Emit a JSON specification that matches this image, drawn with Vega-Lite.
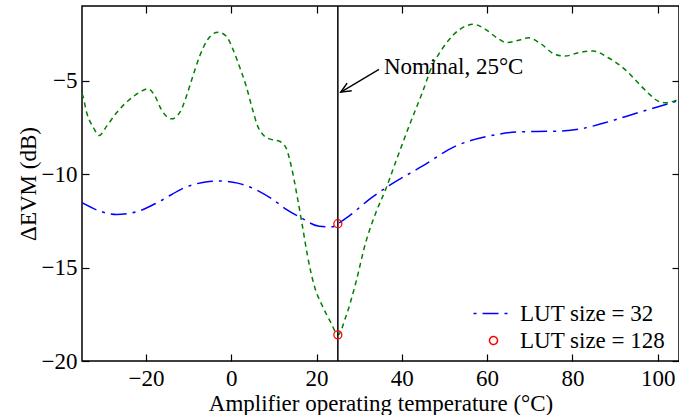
{
  "$schema": "https://vega.github.io/schema/vega-lite/v6.json",
  "width": 597,
  "height": 355,
  "autosize": {"type": "none"},
  "padding": {"left": 82, "top": 6, "right": 0, "bottom": 54},
  "background": "white",
  "config": {
    "view": {"stroke": "black", "strokeWidth": 1.5},
    "font": "Liberation Serif",
    "axis": {
      "grid": false,
      "domain": false,
      "labelFont": "Liberation Serif",
      "labelFontSize": 23,
      "labelColor": "black",
      "titleFont": "Liberation Serif",
      "titleFontSize": 23,
      "titleFontWeight": "normal",
      "titleColor": "black",
      "tickColor": "black",
      "tickWidth": 1.2,
      "tickSize": -7,
      "labelFlush": false
    }
  },
  "resolve": {"axis": {"x": "independent", "y": "independent"}},
  "layer": [
    {
      "data": {"values": [
        {"temp": -35, "evm": -11.53, "series": "LUT size = 32"},
        {"temp": -30.8, "evm": -11.98, "series": "LUT size = 32"},
        {"temp": -26.9, "evm": -12.16, "series": "LUT size = 32"},
        {"temp": -21.4, "evm": -11.95, "series": "LUT size = 32"},
        {"temp": -16.75, "evm": -11.45, "series": "LUT size = 32"},
        {"temp": -10.5, "evm": -10.68, "series": "LUT size = 32"},
        {"temp": -6, "evm": -10.42, "series": "LUT size = 32"},
        {"temp": -2.7, "evm": -10.37, "series": "LUT size = 32"},
        {"temp": 1.5, "evm": -10.48, "series": "LUT size = 32"},
        {"temp": 5.05, "evm": -10.75, "series": "LUT size = 32"},
        {"temp": 9.7, "evm": -11.35, "series": "LUT size = 32"},
        {"temp": 13, "evm": -11.9, "series": "LUT size = 32"},
        {"temp": 16.4, "evm": -12.34, "series": "LUT size = 32"},
        {"temp": 20.6, "evm": -12.79, "series": "LUT size = 32"},
        {"temp": 23.7, "evm": -12.82, "series": "LUT size = 32"},
        {"temp": 25, "evm": -12.65, "series": "LUT size = 32"},
        {"temp": 27.6, "evm": -12.25, "series": "LUT size = 32"},
        {"temp": 32.3, "evm": -11.36, "series": "LUT size = 32"},
        {"temp": 37, "evm": -10.62, "series": "LUT size = 32"},
        {"temp": 44.8, "evm": -9.57, "series": "LUT size = 32"},
        {"temp": 52.6, "evm": -8.5, "series": "LUT size = 32"},
        {"temp": 60.3, "evm": -7.97, "series": "LUT size = 32"},
        {"temp": 68.1, "evm": -7.73, "series": "LUT size = 32"},
        {"temp": 75.9, "evm": -7.7, "series": "LUT size = 32"},
        {"temp": 81.4, "evm": -7.6, "series": "LUT size = 32"},
        {"temp": 87.6, "evm": -7.25, "series": "LUT size = 32"},
        {"temp": 95.4, "evm": -6.71, "series": "LUT size = 32"},
        {"temp": 105, "evm": -6.06, "series": "LUT size = 32"}
      ]},
      "mark": {"type": "line", "interpolate": "monotone", "strokeWidth": 1.5, "strokeDash": [16, 6, 3, 6], "clip": true},
      "encoding": {
        "x": {"field": "temp", "type": "quantitative", "scale": {"domain": [-35, 105], "nice": false, "zero": false},
          "axis": {"orient": "bottom", "title": "Amplifier operating temperature (°C)", "values": [-20, 0, 20, 40, 60, 80, 100], "labelPadding": 13, "titlePadding": 2}},
        "y": {"field": "evm", "type": "quantitative", "scale": {"domain": [-20, -1], "nice": false, "zero": false},
          "axis": {"orient": "left", "title": "ΔEVM (dB)", "values": [-20, -15, -10, -5], "labelPadding": 12, "titlePadding": 1}},
        "color": {"field": "series", "type": "nominal",
          "scale": {"domain": ["LUT size = 32", "LUT size = 128"], "range": ["#0000ff", "#ff0000"]},
          "legend": {
            "orient": "none", "legendX": 400, "legendY": 296, "title": null,
            "labelFont": "Liberation Serif", "labelFontSize": 23, "labelColor": "black", "labelLimit": 300,
            "symbolSize": 1600, "labelOffset": 15, "rowPadding": 3, "padding": 0,
            "encode": {"symbols": {"update": {
              "shape": {"signal": "datum.value === 'LUT size = 32' ? 'stroke' : 'circle'"},
              "size": {"signal": "datum.value === 'LUT size = 32' ? 1600 : 64"},
              "stroke": {"signal": "datum.value === 'LUT size = 32' ? '#0000ff' : '#ff0000'"},
              "strokeDash": {"signal": "datum.value === 'LUT size = 32' ? [16, 6, 3, 6] : [1, 0]"},
              "strokeDashOffset": {"signal": "datum.value === 'LUT size = 32' ? 22 : 0"},
              "strokeWidth": {"value": 1.5},
              "fill": {"value": "transparent"},
              "opacity": {"value": 1}
            }}}
          }}
      }
    },
    {
      "data": {"values": [
        {"temp": -35, "evm": -5.7},
        {"temp": -34.8, "evm": -5.82},
        {"temp": -33.9, "evm": -6.71},
        {"temp": -32.3, "evm": -7.52},
        {"temp": -31, "evm": -7.93},
        {"temp": -29.2, "evm": -7.43},
        {"temp": -26.9, "evm": -6.71},
        {"temp": -23.8, "evm": -6.0},
        {"temp": -21.4, "evm": -5.61},
        {"temp": -19.5, "evm": -5.43},
        {"temp": -17.9, "evm": -5.82},
        {"temp": -16.4, "evm": -6.54},
        {"temp": -14, "evm": -7.04},
        {"temp": -12.1, "evm": -6.71},
        {"temp": -10.5, "evm": -5.82},
        {"temp": -9, "evm": -4.75},
        {"temp": -7.4, "evm": -3.68},
        {"temp": -5.5, "evm": -2.79},
        {"temp": -3.1, "evm": -2.4},
        {"temp": -1.2, "evm": -2.61},
        {"temp": 0.4, "evm": -3.32},
        {"temp": 1.9, "evm": -4.22},
        {"temp": 3.5, "evm": -5.29},
        {"temp": 5.0, "evm": -6.54},
        {"temp": 6.2, "evm": -7.43},
        {"temp": 7.4, "evm": -7.88},
        {"temp": 9.3, "evm": -8.14},
        {"temp": 11.3, "evm": -8.24},
        {"temp": 12.85, "evm": -8.59},
        {"temp": 14.0, "evm": -9.5},
        {"temp": 15.6, "evm": -11.36},
        {"temp": 16.7, "evm": -12.79},
        {"temp": 17.9, "evm": -14.39},
        {"temp": 19.5, "evm": -16.0},
        {"temp": 21.4, "evm": -17.07},
        {"temp": 23.4, "evm": -17.96},
        {"temp": 25, "evm": -18.6},
        {"temp": 26.9, "evm": -17.61},
        {"temp": 29.2, "evm": -15.82},
        {"temp": 31.5, "evm": -13.68},
        {"temp": 33.9, "evm": -12.07},
        {"temp": 36.2, "evm": -10.82},
        {"temp": 38.9, "evm": -9.13},
        {"temp": 42, "evm": -7.25},
        {"temp": 44.8, "evm": -5.64},
        {"temp": 47.1, "evm": -4.22},
        {"temp": 49.4, "evm": -3.32},
        {"temp": 52.2, "evm": -2.52},
        {"temp": 54.9, "evm": -2.08},
        {"temp": 56.8, "evm": -1.98},
        {"temp": 59.6, "evm": -2.25},
        {"temp": 62.3, "evm": -2.7},
        {"temp": 64.6, "evm": -2.96},
        {"temp": 67.4, "evm": -2.83},
        {"temp": 69.7, "evm": -2.7},
        {"temp": 72.8, "evm": -3.06},
        {"temp": 75.9, "evm": -3.59},
        {"temp": 78.3, "evm": -3.68},
        {"temp": 81.4, "evm": -3.5},
        {"temp": 84.9, "evm": -3.41},
        {"temp": 88.4, "evm": -3.77},
        {"temp": 92.3, "evm": -4.39},
        {"temp": 95.4, "evm": -5.11},
        {"temp": 98.1, "evm": -5.73},
        {"temp": 100.1, "evm": -6.09},
        {"temp": 102, "evm": -6.18},
        {"temp": 105, "evm": -5.98}
      ]},
      "mark": {"type": "line", "interpolate": "monotone", "strokeWidth": 1.5, "strokeDash": [5, 4], "color": "#008000", "clip": true},
      "encoding": {
        "x": {"field": "temp", "type": "quantitative",
          "axis": {"orient": "top", "title": null, "labels": false, "values": [-20, 0, 20, 40, 60, 80, 100]}},
        "y": {"field": "evm", "type": "quantitative",
          "axis": {"orient": "right", "title": null, "labels": false, "values": [-20, -15, -10, -5]}}
      }
    },
    {
      "data": {"values": [{"temp": 25}]},
      "mark": {"type": "rule", "color": "black", "strokeWidth": 1.5},
      "encoding": {"x": {"field": "temp", "type": "quantitative", "axis": null}}
    },
    {
      "data": {"values": [
        {"temp": 25, "evm": -12.65, "series": "LUT size = 128"},
        {"temp": 25, "evm": -18.6, "series": "LUT size = 128"}
      ]},
      "mark": {"type": "point", "shape": "circle", "filled": false, "size": 64, "strokeWidth": 1.3, "opacity": 1},
      "encoding": {
        "x": {"field": "temp", "type": "quantitative", "axis": null},
        "y": {"field": "evm", "type": "quantitative", "axis": null},
        "color": {"field": "series", "type": "nominal", "legend": null}
      }
    },
    {
      "data": {"values": [{"x1": 34.65, "y1": -4.39, "x2": 25.7, "y2": -5.61}]},
      "mark": {"type": "rule", "color": "black", "strokeWidth": 1.3},
      "encoding": {
        "x": {"field": "x1", "type": "quantitative", "axis": null},
        "y": {"field": "y1", "type": "quantitative", "axis": null},
        "x2": {"field": "x2"},
        "y2": {"field": "y2"}
      }
    },
    {
      "data": {"values": [{"x2": 25.7, "y2": -5.61}]},
      "mark": {"type": "point", "shape": "M-1,-0.45L0,0L-1,0.45", "filled": false, "stroke": "black", "strokeWidth": 1.5, "size": 400, "angle": 149, "opacity": 1},
      "encoding": {
        "x": {"field": "x2", "type": "quantitative", "axis": null},
        "y": {"field": "y2", "type": "quantitative", "axis": null}
      }
    },
    {
      "data": {"values": [{"temp": 35.8, "evm": -4.29, "label": "Nominal, 25°C"}]},
      "mark": {"type": "text", "align": "left", "baseline": "middle", "font": "Liberation Serif", "fontSize": 23, "color": "black"},
      "encoding": {
        "x": {"field": "temp", "type": "quantitative", "axis": null},
        "y": {"field": "evm", "type": "quantitative", "axis": null},
        "text": {"field": "label"}
      }
    }
  ]
}
